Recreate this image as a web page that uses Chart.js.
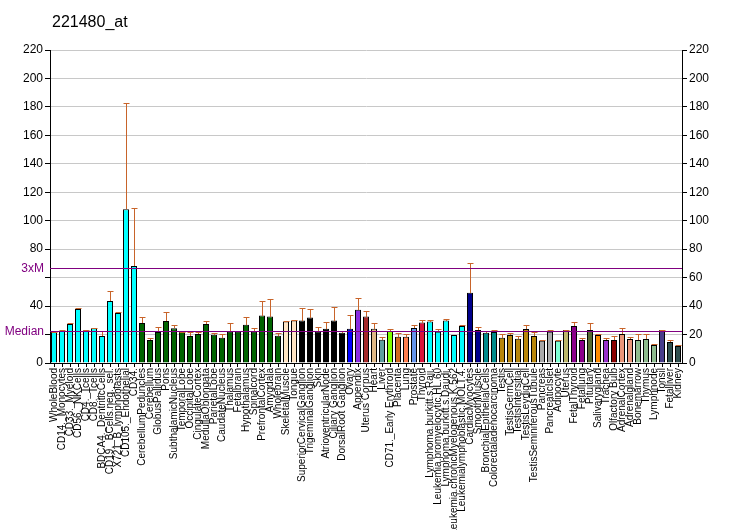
<!DOCTYPE html>
<html>
<head>
<meta charset="utf-8">
<script src="https://cdn.jsdelivr.net/npm/chart.js@4.4.1/dist/chart.umd.min.js"></script>
<style>
  html, body { margin: 0; padding: 0; background: #fff; }
  #wrap { position: relative; width: 732px; height: 530px; }
</style>
</head>
<body>
<div id="wrap"><canvas id="chart" width="732" height="530"></canvas></div>
<script>
// probe set and reference lines
const title = '221480_at';
const medianValue = 22.2;
const threexmValue = 66.6;

const tissues = [
  'WholeBlood', 'CD14._Monocytes', 'CD33._Myeloid', 'CD56._NKCells', 'CD4._Tcells', 'CD8._Tcells',
  'BDCA4._DentriticCells', 'CD19._BCells.neg._sel.', 'X721_B_lymphoblasts', 'CD105._Endothelial', 'CD34.',
  'CerebellumPeduncles', 'Cerebellum', 'GlobusPallidus', 'Pons', 'SubthalamicNucleus', 'TemporalLobe',
  'OccipitalLobe', 'CingulateCortex', 'MedullaOblongata', 'ParietalLobe', 'CaudateNucleus', 'Thalamus',
  'Fetalbrain', 'Hypothalamus', 'Spinalcord', 'PrefrontalCortex', 'Amygdala', 'Wholebrain',
  'SkeletalMuscle', 'Tongue', 'SuperiorCervicalGanglion', 'TrigeminalGanglion', 'Skin',
  'AtrioventricularNode', 'Ciliary Ganglion', 'DorsalRoot Ganglion', 'Ovary', 'Appendix', 'Uterus Corpus',
  'Heart', 'Liver', 'CD71._Early Erythroid', 'Placenta', 'Lung', 'Prostate', 'Thyroid',
  'Lymphoma.burkitt.s.Raji.', 'Leukemia.promyelocytic.HL.60', 'Lymphoma.burkitt.s.Daudi.',
  'Leukemia.chronicMyelogenous.K.562', 'Leukemialymphoblastic.MOLT.4.', 'CardiacMyocytes', 'SmoothMuscle',
  'BronchialEpithelialCells', 'Colorectaladenocarcinoma', 'Testis', 'TestisGermCell', 'TestisIntersitial',
  'TestisLeydigCell', 'TestisSeminiferousTubule', 'Pancreas', 'PancreaticIslet', 'Adipocyte', 'Uterus',
  'FetalThyroid', 'Fetallung', 'Pituitary', 'Salivarygland', 'Trachea', 'Olfactory Bulb', 'AdrenalCortex',
  'Adrenalgland', 'Bonemarrow', 'Thymus', 'Lymphnode', 'Tonsil', 'Fetalliver', 'Kidney'
];

const expression = [
  21.8, 22.7, 27.4, 38.0, 23.0, 24.4, 19.0, 43.6, 35.1, 108.0, 68.2,
  28.1, 16.2, 21.8, 29.5, 24.4, 21.8, 19.0, 20.4, 27.4, 19.8, 17.8, 22.0,
  22.0, 26.9, 22.0, 33.3, 32.6, 19.2,
  29.1, 29.8, 29.8, 31.9, 22.0, 24.1, 29.8, 21.3, 24.1, 37.5, 32.6,
  24.1, 16.4, 22.5, 18.5, 18.5, 24.6, 28.4,
  29.1, 22.0, 29.8, 19.7, 26.0, 49.4, 23.2,
  21.3, 21.8, 17.8, 19.7, 17.1, 23.9, 19.0, 15.7, 22.0, 15.7, 23.2,
  26.0, 16.2, 23.2, 19.7, 16.2, 16.2, 20.4, 16.9, 16.2, 16.9, 12.7, 23.2, 14.8, 12.0
];

// top of each error whisker
const errorTop = [
  22.0, 23.2, 28.1, 38.4, 23.2, 24.6, 22.3, 50.4, 35.6, 183.0, 108.7,
  32.1, 17.3, 25.1, 35.6, 26.5, 22.0, 21.6, 21.6, 29.3, 21.1, 20.4, 28.4,
  22.2, 32.3, 24.6, 43.6, 45.0, 21.1,
  29.8, 30.5, 38.9, 38.2, 25.3, 29.1, 39.6, 22.7, 34.0, 45.7, 36.8,
  28.4, 18.3, 24.1, 21.1, 20.4, 26.7, 30.2,
  30.2, 23.9, 31.2, 19.7, 26.7, 70.3, 25.3,
  22.3, 23.2, 20.4, 21.3, 19.2, 26.7, 22.0, 16.4, 23.2, 16.4, 23.4,
  29.1, 17.6, 28.4, 20.4, 17.6, 19.0, 24.6, 18.3, 20.4, 20.4, 13.4, 23.4, 16.2, 12.7
];

const barColors = [
  ...Array(11).fill('#00FFFF'),
  ...Array(18).fill('#006400'),
  '#FFE4C4', '#FFE4C4',
  ...Array(6).fill('#000000'),
  '#0000FF', '#8A2BE2', '#A52A2A', '#DEB887', '#5F9EA0', '#7FFF00', '#D2691E', '#FF7F50',
  '#6495ED', '#DC143C',
  ...Array(5).fill('#00FFFF'),
  '#00008B', '#00008B', '#008B8B', '#008B8B',
  ...Array(5).fill('#B8860B'),
  '#A9A9A9', '#A9A9A9', '#7FFFD4', '#BDB76B', '#8B008B', '#8B008B', '#556B2F', '#FF8C00',
  '#9932CC', '#8B0000', '#E9967A', '#E9967A', '#8FBC8F', '#8FBC8F', '#8FBC8F', '#483D8B',
  '#2F4F4F', '#2F4F4F'
];

const FONT = 'Liberation Sans, Arial, sans-serif';

// whiskers, reference lines and their labels
const overlayPlugin = {
    id: 'overlay',
    afterDatasetsDraw(chart) {
        const ctx = chart.ctx;
        const x = chart.scales.x;
        const y = chart.scales.y;
        const area = chart.chartArea;

        ctx.save();
        ctx.strokeStyle = '#C8642A';
        ctx.lineWidth = 1;
        expression.forEach((v, i) => {
            if (errorTop[i] <= v) return;
            const px = Math.round(x.getPixelForValue(i)) + 0.5;
            const y0 = Math.round(y.getPixelForValue(v));
            const y1 = Math.round(y.getPixelForValue(errorTop[i])) + 0.5;
            ctx.beginPath();
            ctx.moveTo(px, y0);
            ctx.lineTo(px, y1);
            ctx.moveTo(px - 3, y1);
            ctx.lineTo(px + 3, y1);
            ctx.stroke();
        });

        ctx.strokeStyle = '#800080';
        ctx.fillStyle = '#800080';
        ctx.font = '12px ' + FONT;
        ctx.textAlign = 'right';
        ctx.textBaseline = 'middle';
        [[medianValue, 'Median'], [threexmValue, '3xM']].forEach(([val, txt]) => {
            const py = Math.round(y.getPixelForValue(val)) + 0.5;
            ctx.beginPath();
            ctx.moveTo(area.left, py);
            ctx.lineTo(area.right, py);
            ctx.stroke();
            ctx.fillText(txt, area.left - 6, py);
        });

        ctx.fillStyle = '#000';
        ctx.font = '16px ' + FONT;
        ctx.textAlign = 'left';
        ctx.textBaseline = 'alphabetic';
        ctx.fillText(title, 52, 27);
        ctx.restore();
    }
};

const yTicks = {
    min: 0, max: 220,
    ticks: { stepSize: 20, color: '#000', font: { size: 12, family: FONT }, padding: 2 },
    border: { color: '#000', width: 1 },
    grid: { color: '#C8C8C8', tickColor: '#000', tickLength: 5 }
};

new Chart(document.getElementById('chart'), {
    type: 'bar',
    data: {
        labels: tissues,
        datasets: [{
            data: expression,
            backgroundColor: barColors,
            borderColor: '#000',
            borderWidth: 1,
            barPercentage: 0.75,
            categoryPercentage: 1.0
        }]
    },
    options: {
        responsive: false,
        animation: false,
        layout: { padding: { top: 50, left: 0, right: 0, bottom: 0 } },
        plugins: { legend: { display: false }, tooltip: { enabled: false } },
        scales: {
            x: {
                offset: true,
                ticks: {
                    autoSkip: false, maxRotation: 90, minRotation: 90, color: '#000',
                    font: { size: 10, family: FONT }, padding: 1
                },
                border: { color: '#000', width: 1 },
                grid: { display: true, drawOnChartArea: false, offset: false, tickColor: '#000', tickLength: 4 },
                afterFit(scale) { scale.height = 167; }
            },
            y: {
                ...yTicks,
                position: 'left',
                ticks: {
                    ...yTicks.ticks,
                    callback: (v) => (v === 20 || v === 60) ? '' : v
                },
                afterFit(scale) { scale.width = 50; }
            },
            y2: {
                ...yTicks,
                position: 'right',
                grid: { ...yTicks.grid, drawOnChartArea: false },
                afterFit(scale) { scale.width = 50; }
            }
        }
    },
    plugins: [overlayPlugin]
});
</script>
</body>
</html>
